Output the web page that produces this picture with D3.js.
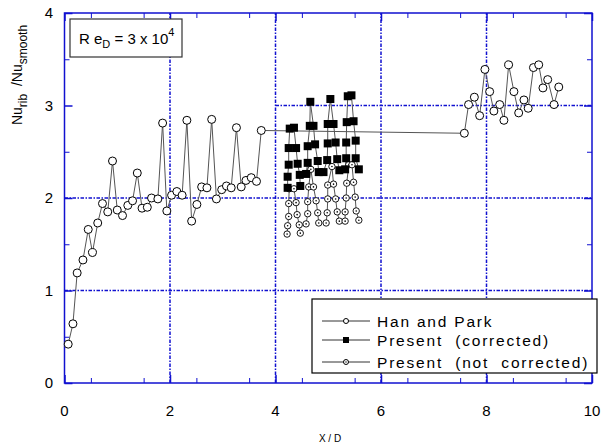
<!DOCTYPE html>
<html>
<head>
<meta charset="utf-8">
<script src="https://cdnjs.cloudflare.com/ajax/libs/d3/7.8.5/d3.min.js"></script>
<style>
  body { margin: 0; background: #fff; }
  text { font-family: "Liberation Sans", Arial, sans-serif; }
</style>
</head>
<body>
<svg id="vis" width="601" height="445"></svg>
<script>
// Han and Park data
var hanX = [0.07,0.16,0.24,0.35,0.45,0.53,0.63,0.72,0.82,0.91,1.00,1.10,1.20,1.29,1.38,1.47,1.57,1.65,1.77,1.86,1.94,
  2.03,2.13,2.23,2.32,2.41,2.51,2.60,2.70,2.79,2.88,2.98,3.07,3.16,3.26,3.35,3.44,3.54,3.64,3.73,
  7.58,7.66,7.77,7.87,7.97,8.06,8.14,8.25,8.33,8.42,8.52,8.61,8.71,8.79,8.89,8.99,9.07,9.16,9.28,9.37];
var hanY = [0.42,0.64,1.19,1.33,1.66,1.41,1.73,1.94,1.85,2.40,1.87,1.81,1.92,1.97,2.27,1.89,1.90,2.00,1.99,2.81,1.86,
  2.03,2.07,2.03,2.84,1.75,1.93,2.12,2.11,2.85,1.99,2.09,2.13,2.11,2.76,2.12,2.19,2.22,2.18,2.73,
  2.70,3.01,3.09,2.89,3.39,3.15,2.94,3.01,2.84,3.44,3.15,2.92,3.06,2.97,3.41,3.44,3.19,3.28,3.01,3.20];

// Present (corrected), each group is one drawn polyline
var corrGroup = [0,0,0,0,0,0,0,0,0,0, 1,1,1,1,1,1,1,1,1, 2,2,2,2,2,2,2,2,2, 3,3,3,3,3,3,3,3,3,3];
var corrX = [4.23,4.23,4.25,4.25,4.27,4.35,4.39,4.42,4.46,4.47,
  4.58,4.61,4.61,4.65,4.66,4.72,4.75,4.80,4.82,
  4.91,4.98,4.99,4.99,5.04,5.10,5.14,5.17,5.21,
  5.32,5.34,5.34,5.35,5.37,5.44,5.48,5.52,5.52,5.58];
var corrY = [2.11,2.23,2.36,2.54,2.75,2.76,2.54,2.37,2.25,2.13,
  2.26,2.38,2.56,2.78,3.04,2.78,2.58,2.40,2.28,
  2.28,2.41,2.59,2.80,3.07,2.80,2.60,2.42,2.30,
  2.31,2.43,2.60,2.82,3.10,3.11,2.83,2.62,2.43,2.31];

// Present (not corrected)
var rawGroup = [0,0,0,0,0,0,0,0,0,0, 1,1,1,1,1,1,1,1,1, 2,2,2,2,2,2,2,2,2, 3,3,3,3,3,3,3,3,3,3];
var rawX = [4.22,4.23,4.25,4.25,4.26,4.35,4.39,4.41,4.45,4.47,
  4.58,4.61,4.61,4.63,4.67,4.72,4.77,4.80,4.82,
  4.96,4.98,4.99,4.99,5.07,5.10,5.14,5.17,5.21,
  5.32,5.32,5.34,5.35,5.39,5.45,5.48,5.51,5.53,5.58];
var rawY = [1.61,1.70,1.80,1.94,2.10,2.10,1.95,1.82,1.71,1.62,
  1.72,1.83,1.96,2.12,2.31,2.12,1.97,1.84,1.73,
  1.73,1.84,1.99,2.14,2.34,2.15,1.99,1.85,1.75,
  1.75,1.85,2.00,2.16,2.36,2.36,2.17,2.01,1.86,1.76];

var xTicks = [0,2,4,6,8,10];
var yTicks = [0,1,2,3,4];
var legendNames = ["Han and Park", "Present  (corrected)", "Present  (not  corrected)"];

var svg = d3.select("#vis");
var pLeft = 64.5, pRight = 592, pTop = 13, pBottom = 383;
var blue = "#1010d0";

var x = d3.scaleLinear().domain([0,10]).range([pLeft,pRight]);
var y = d3.scaleLinear().domain([0,4]).range([pBottom,pTop]);

// grid lines (dash-dot)
var grid = svg.append("g").attr("stroke", blue).attr("stroke-width", 1.5)
  .attr("stroke-dasharray", "3.5,1.5,1.5,1.5");
[2,4,6,8].forEach(function(v){
  grid.append("line").attr("x1", x(v)).attr("x2", x(v)).attr("y1", y(0)).attr("y2", y(4));
});
[1,2].forEach(function(v){
  grid.append("line").attr("x1", x(0)).attr("x2", x(10)).attr("y1", y(v)).attr("y2", y(v));
});
grid.append("line").attr("x1", x(4)).attr("x2", x(10)).attr("y1", y(3)).attr("y2", y(3));

// axes with inward ticks
function tickAxis(axis, tr, major, minor){
  svg.append("g").attr("transform", tr)
    .call(axis.tickValues(minor).tickSize(5).tickFormat(""))
    .call(function(g){ g.select(".domain").remove(); g.selectAll("line").attr("stroke", blue); });
  svg.append("g").attr("transform", tr)
    .call(axis.tickValues(major).tickSize(8).tickFormat(""))
    .call(function(g){ g.select(".domain").remove(); g.selectAll("line").attr("stroke", blue).attr("stroke-width", 1.5); });
}
var xMinor = d3.range(0.5, 10, 1), yMinor = d3.range(0.5, 4, 1);
tickAxis(d3.axisTop(x), "translate(0," + pBottom + ")", xTicks, xMinor);
tickAxis(d3.axisBottom(x), "translate(0," + pTop + ")", xTicks, xMinor);
tickAxis(d3.axisRight(y), "translate(" + pLeft + ",0)", yTicks, yMinor);
tickAxis(d3.axisLeft(y), "translate(" + pRight + ",0)", yTicks, yMinor);

svg.append("rect").attr("x", pLeft).attr("y", pTop)
  .attr("width", pRight-pLeft).attr("height", pBottom-pTop)
  .attr("fill", "none").attr("stroke", blue).attr("stroke-width", 1.5);

// tick labels
svg.append("g").selectAll("text").data(xTicks).enter().append("text")
  .attr("x", function(d){ return x(d); }).attr("y", 416)
  .attr("text-anchor", "middle").attr("font-size", 15).text(function(d){ return d; });
svg.append("g").selectAll("text").data(yTicks).enter().append("text")
  .attr("x", 53).attr("y", function(d){ return y(d) + 5; })
  .attr("text-anchor", "end").attr("font-size", 15).text(function(d){ return d; });

// axis titles
svg.append("text").attr("x", 330).attr("y", 442).attr("text-anchor", "middle")
  .attr("font-size", 10).text("X / D");
var yl = svg.append("text").attr("transform", "translate(22,75) rotate(-90)")
  .attr("text-anchor", "middle").attr("font-size", 14).attr("xml:space", "preserve");
yl.append("tspan").text("Nu");
yl.append("tspan").attr("dy", 5).attr("font-size", 12).text("rib");
yl.append("tspan").attr("dy", -5).text("  /Nu");
yl.append("tspan").attr("dy", 5).attr("font-size", 12).text("smooth");

// Re annotation box
svg.append("rect").attr("x", 70).attr("y", 19).attr("width", 112).attr("height", 38)
  .attr("fill", "#fff").attr("stroke", "#333").attr("stroke-width", 1.2);
var re = svg.append("text").attr("x", 79).attr("y", 44).attr("font-size", 15);
re.append("tspan").text("R e");
re.append("tspan").attr("dy", 4).attr("font-size", 11).text("D");
re.append("tspan").attr("dy", -4).text(" = 3 x 10");
re.append("tspan").attr("dy", -8).attr("font-size", 11).text("4");

// series
var line = d3.line().x(function(d){ return x(d[0]); }).y(function(d){ return y(d[1]); });
var han = hanX.map(function(v,i){ return [v, hanY[i]]; });
var corr = corrX.map(function(v,i){ return [v, corrY[i], corrGroup[i]]; });
var raw = rawX.map(function(v,i){ return [v, rawY[i], rawGroup[i]]; });

svg.append("path").datum(han).attr("d", line)
  .attr("fill", "none").attr("stroke", "#555").attr("stroke-width", 1);

d3.groups(raw, function(d){ return d[2]; }).forEach(function(g){
  svg.append("path").datum(g[1]).attr("d", line)
    .attr("fill", "none").attr("stroke", "#555").attr("stroke-width", 1);
});
d3.groups(corr, function(d){ return d[2]; }).forEach(function(g){
  svg.append("path").datum(g[1]).attr("d", line)
    .attr("fill", "none").attr("stroke", "#555").attr("stroke-width", 1);
});

svg.append("g").selectAll("circle").data(han).enter().append("circle")
  .attr("cx", function(d){ return x(d[0]); }).attr("cy", function(d){ return y(d[1]); })
  .attr("r", 4).attr("fill", "#fff").attr("stroke", "#000").attr("stroke-width", 1);

var rawG = svg.append("g").selectAll("g").data(raw).enter().append("g")
  .attr("transform", function(d){ return "translate(" + x(d[0]) + "," + y(d[1]) + ")"; });
rawG.append("circle").attr("r", 3.2).attr("fill", "#fff").attr("stroke", "#000").attr("stroke-width", 0.9);
rawG.append("circle").attr("r", 0.8).attr("fill", "#000");

svg.append("g").selectAll("rect").data(corr).enter().append("rect")
  .attr("x", function(d){ return x(d[0]) - 4; }).attr("y", function(d){ return y(d[1]) - 4; })
  .attr("width", 8).attr("height", 8).attr("fill", "#000");

// legend
var lg = svg.append("g");
lg.append("rect").attr("x", 312).attr("y", 299).attr("width", 285).attr("height", 74)
  .attr("fill", "#fff").attr("stroke", "#000").attr("stroke-width", 1.2);
var rowsY = [321, 340, 362];
legendNames.forEach(function(name, i){
  var ry = rowsY[i];
  lg.append("line").attr("x1", 322).attr("x2", 370).attr("y1", ry).attr("y2", ry)
    .attr("stroke", "#333").attr("stroke-width", 1);
  if (i == 1) {
    lg.append("rect").attr("x", 343).attr("y", ry-3).attr("width", 6).attr("height", 6).attr("fill", "#000");
  } else {
    lg.append("circle").attr("cx", 346).attr("cy", ry).attr("r", 2.5)
      .attr("fill", "#fff").attr("stroke", "#000");
    if (i == 2) lg.append("circle").attr("cx", 346).attr("cy", ry).attr("r", 0.7).attr("fill", "#000");
  }
  lg.append("text").attr("x", 377).attr("y", ry + 5.5).attr("font-size", 15.5)
    .attr("letter-spacing", 1.8).attr("xml:space", "preserve").style("white-space", "pre").text(name);
});
</script>
</body>
</html>
